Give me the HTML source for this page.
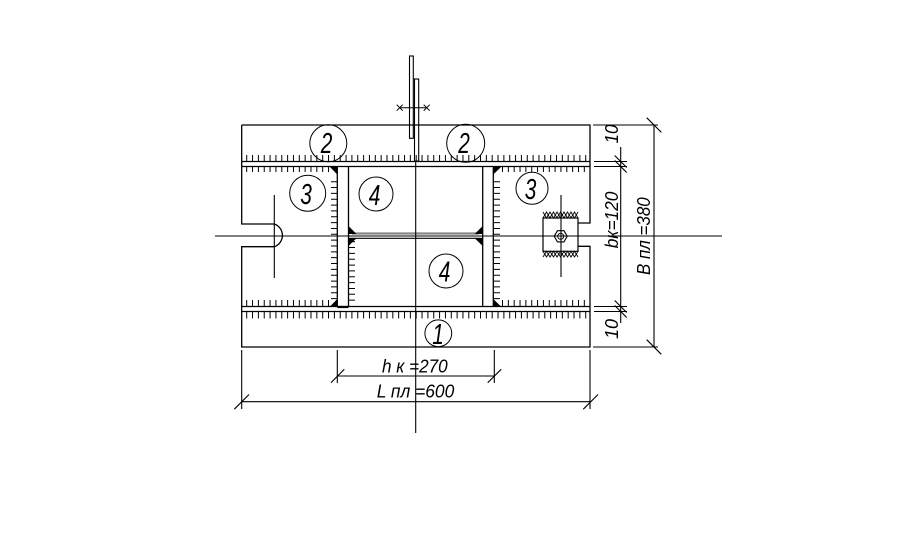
<!DOCTYPE html>
<html>
<head>
<meta charset="utf-8">
<style>
  html,body{margin:0;padding:0;background:#fff;}
  svg{display:block;}
  text{font-family:"Liberation Sans","DejaVu Sans",sans-serif;font-style:italic;fill:#000;}
</style>
</head>
<body>
<svg width="906" height="552" viewBox="0 0 906 552" xmlns="http://www.w3.org/2000/svg">
  <rect x="0" y="0" width="906" height="552" fill="#fff"/>

  <g stroke="#000" stroke-width="1.3" fill="none">
    <!-- plate outline with notches -->
    <path d="M241.7,125 H590 V223 H578 M578,246.3 H590 V347 H241.7 V246.7 H274.3 M274.3,224 H241.7 V125"/>
    <!-- left slot arc -->
    <path d="M274.3,224 A12,12 0 0 1 274.3,246.7"/>
    <!-- left slot axis -->
    <line x1="274.3" y1="195" x2="274.3" y2="278" stroke-width="1.1"/>

    <!-- flange bands -->
    <line x1="241.7" y1="161.5" x2="590" y2="161.5"/>
    <line x1="241.7" y1="166.5" x2="590" y2="166.5"/>
    <line x1="241.7" y1="306.5" x2="590" y2="306.5"/>
    <line x1="241.7" y1="311.5" x2="590" y2="311.5"/>

    <!-- column vertical lines -->
    <line x1="337.3" y1="166.5" x2="337.3" y2="306.5"/>
    <line x1="348.5" y1="166.5" x2="348.5" y2="306.5"/>
    <line x1="482.7" y1="166.5" x2="482.7" y2="306.5"/>
    <line x1="493.3" y1="166.5" x2="493.3" y2="306.5"/>
    <line x1="337.3" y1="307" x2="348.5" y2="307" stroke-width="2.2"/>

    <!-- stiffener -->
    <line x1="352" y1="233.5" x2="479" y2="233.5" stroke="#888" stroke-width="2.2"/>
    <line x1="348.5" y1="238.3" x2="482.7" y2="238.3" stroke-width="1.1"/>

    <!-- axes -->
    <line x1="215" y1="236" x2="722" y2="236" stroke-width="1.1"/>
    <line x1="415.7" y1="161" x2="415.7" y2="433" stroke-width="1.1"/>

    <!-- gusset plates -->
    <rect x="409.5" y="56" width="3.8" height="82.3" stroke-width="1.1"/>
    <rect x="414.5" y="79" width="4.2" height="82" stroke-width="1.1"/>
    <line x1="399.7" y1="107.7" x2="426.7" y2="107.7" stroke-width="1"/>
    <path d="M396.7,104.7 L402.7,110.7 M396.7,110.7 L402.7,104.7 M423.7,104.7 L429.7,110.7 M423.7,110.7 L429.7,104.7" stroke-width="1"/>

    <!-- bolt box -->
    <rect x="543" y="218" width="35" height="33.3" stroke-width="1.2"/>
    <line x1="561" y1="195" x2="561" y2="277" stroke-width="1.1"/>
    <polygon points="554.2,236.3 557.45,230.7 563.95,230.7 567.2,236.3 563.95,241.9 557.45,241.9" stroke-width="1.1"/>
    <circle cx="560.7" cy="236.3" r="3" stroke-width="1"/>
    <polyline points="543,212 546.5,218 550,212 553.5,218 557,212 560.5,218 564,212 567.5,218 571,212 574.5,218 578,212" stroke-width="0.9"/>
    <polyline points="543,218 546.5,212 550,218 553.5,212 557,218 560.5,212 564,218 567.5,212 571,218 574.5,212 578,218" stroke-width="0.9"/>
    <polyline points="543,251.3 546.5,257 550,251.3 553.5,257 557,251.3 560.5,257 564,251.3 567.5,257 571,251.3 574.5,257 578,251.3" stroke-width="0.9"/>
    <polyline points="543,257 546.5,251.3 550,257 553.5,251.3 557,257 560.5,251.3 564,257 567.5,251.3 571,257 574.5,251.3 578,257" stroke-width="0.9"/>
  </g>

  <!-- tick rows (dashed thick lines) -->
  <g stroke="#000" fill="none" stroke-dasharray="1 4.845">
    <line x1="246.2" y1="158.25" x2="587" y2="158.25" stroke-width="6.5"/>
    <line x1="246.2" y1="169.25" x2="329.5" y2="169.25" stroke-width="5.5"/>
    <line x1="502" y1="169.25" x2="587" y2="169.25" stroke-width="5.5"/>
    <line x1="246.2" y1="303.25" x2="329.5" y2="303.25" stroke-width="6.5"/>
    <line x1="502" y1="303.25" x2="587" y2="303.25" stroke-width="6.5"/>
    <line x1="246.2" y1="315" x2="587" y2="315" stroke-width="7"/>
    <line x1="334.15" y1="181.2" x2="334.15" y2="301" stroke-width="6.3"/>
    <line x1="351.75" y1="241.2" x2="351.75" y2="302" stroke-width="6.5"/>
    <line x1="496.65" y1="181.2" x2="496.65" y2="301" stroke-width="6.7"/>
  </g>

  <!-- weld triangles -->
  <g fill="#000" stroke="none">
    <polygon points="330,167 337.3,167 337.3,174.5"/>
    <polygon points="337.3,299 337.3,306.5 330,306.5"/>
    <polygon points="493.3,167 501,167 493.3,174.5"/>
    <polygon points="493.3,299 493.3,306.5 501,306.5"/>
    <polygon points="348.5,226 348.5,234 356.5,234"/>
    <polygon points="348.5,238.3 356.5,238.3 348.5,246"/>
    <polygon points="482.7,226 482.7,234 474.7,234"/>
    <polygon points="482.7,238.3 474.7,238.3 482.7,246"/>
  </g>

  <!-- callout circles -->
  <g stroke="#000" stroke-width="1" fill="none">
    <circle cx="328.3" cy="143.3" r="18.5"/>
    <circle cx="465.7" cy="143.3" r="19"/>
    <circle cx="307.7" cy="193.3" r="18"/>
    <circle cx="532" cy="188.3" r="16"/>
    <circle cx="376" cy="194" r="17"/>
    <circle cx="446" cy="271" r="17"/>
    <circle cx="438.3" cy="333.3" r="13.4"/>
  </g>
  <g font-size="29">
    <g transform="translate(326.5,142.5) scale(0.72,1)"><text x="0" y="10.5" text-anchor="middle">2</text></g>
    <g transform="translate(464,142.5) scale(0.72,1)"><text x="0" y="10.5" text-anchor="middle">2</text></g>
    <g transform="translate(306,193.5) scale(0.72,1)"><text x="0" y="10.5" text-anchor="middle">3</text></g>
    <g transform="translate(530.5,188.5) scale(0.72,1)"><text x="0" y="10.5" text-anchor="middle">3</text></g>
    <g transform="translate(374.5,194.5) scale(0.72,1)"><text x="0" y="10.5" text-anchor="middle">4</text></g>
    <g transform="translate(444.5,271) scale(0.72,1)"><text x="0" y="10.5" text-anchor="middle">4</text></g>
    <g transform="translate(438,333.3) scale(0.72,1)"><text x="0" y="10.5" text-anchor="middle">1</text></g>
  </g>

  <!-- bottom dimensions -->
  <g stroke="#000" stroke-width="1.1" fill="none">
    <line x1="337.3" y1="350" x2="337.3" y2="383"/>
    <line x1="494.3" y1="350" x2="494.3" y2="383"/>
    <line x1="337.3" y1="376" x2="494.3" y2="376"/>
    <line x1="331" y1="382.7" x2="344.3" y2="369.3"/>
    <line x1="487.7" y1="382.7" x2="501.2" y2="369.3"/>

    <line x1="241.7" y1="350" x2="241.7" y2="409"/>
    <line x1="590" y1="350" x2="590" y2="409"/>
    <line x1="241.7" y1="401.7" x2="590" y2="401.7"/>
    <line x1="234.3" y1="409.2" x2="249" y2="394.5"/>
    <line x1="583.3" y1="409.2" x2="598" y2="394.5"/>
  </g>
  <text x="382" y="372.3" font-size="18" textLength="65.7" lengthAdjust="spacingAndGlyphs">h к =270</text>
  <text x="376.7" y="397.3" font-size="18" textLength="77.6" lengthAdjust="spacingAndGlyphs">L пл =600</text>

  <!-- right dimensions -->
  <g stroke="#000" stroke-width="1.1" fill="none">
    <line x1="593" y1="125" x2="658" y2="125"/>
    <line x1="593" y1="347" x2="658" y2="347"/>
    <line x1="654" y1="125" x2="654" y2="347"/>
    <line x1="646.7" y1="117.7" x2="661.3" y2="132.3"/>
    <line x1="646.7" y1="339.7" x2="661.3" y2="354.3"/>

    <line x1="594" y1="161.5" x2="627" y2="161.5"/>
    <line x1="594" y1="166.5" x2="627" y2="166.5"/>
    <line x1="594" y1="306.5" x2="627" y2="306.5"/>
    <line x1="594" y1="311.5" x2="627" y2="311.5"/>
    <line x1="620.7" y1="147" x2="620.7" y2="323"/>
    <line x1="614.7" y1="155.5" x2="626.7" y2="167.5"/>
    <line x1="614.7" y1="160.5" x2="626.7" y2="172.5"/>
    <line x1="614.7" y1="300.5" x2="626.7" y2="312.5"/>
    <line x1="614.7" y1="305.5" x2="626.7" y2="317.5"/>
  </g>
  <text transform="translate(618,134) rotate(-90)" font-size="18" text-anchor="middle" textLength="19" lengthAdjust="spacingAndGlyphs">10</text>
  <text transform="translate(618,220) rotate(-90)" font-size="18" text-anchor="middle" textLength="56.6" lengthAdjust="spacingAndGlyphs">bк=120</text>
  <text transform="translate(650,236.2) rotate(-90)" font-size="18" text-anchor="middle" textLength="77.7" lengthAdjust="spacingAndGlyphs">B пл =380</text>
  <text transform="translate(618,329) rotate(-90)" font-size="18" text-anchor="middle" textLength="20" lengthAdjust="spacingAndGlyphs">10</text>
</svg>
</body>
</html>
